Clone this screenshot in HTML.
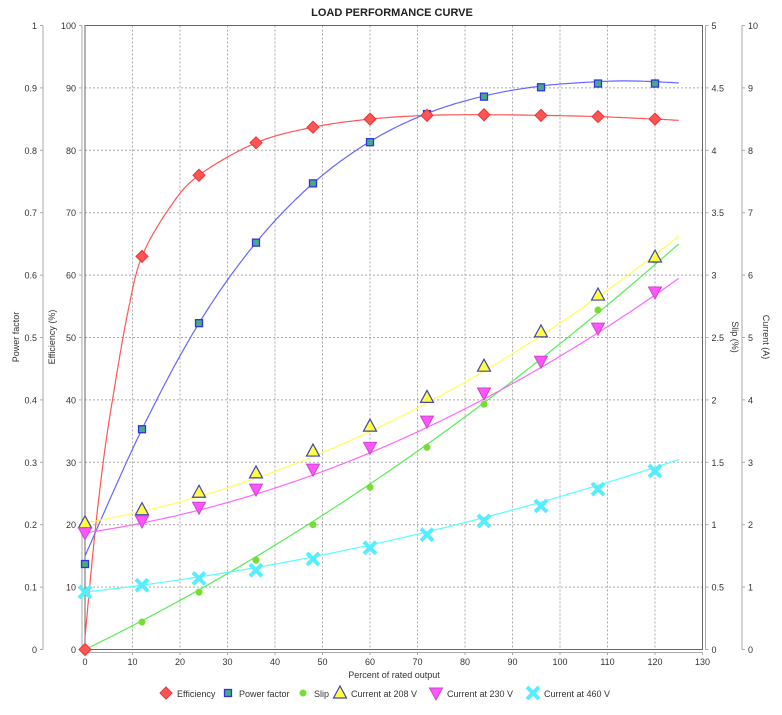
<!DOCTYPE html>
<html><head><meta charset="utf-8"><style>
body{margin:0;background:#fff;}
svg{display:block;font-family:"Liberation Sans","DejaVu Sans",sans-serif;}
</style></head><body>
<svg id="s" width="782" height="715" xmlns="http://www.w3.org/2000/svg"></svg>
<script>
const S=document.getElementById('s');
const L=85,R=702.5,T=25.5,B=649.5;
const X=v=>L+(R-L)*v/130, Y=v=>B-(B-T)*v/100;
let h='';
h+='<rect x="0" y="0" width="782" height="715" fill="#fff"/>';
h+=`<text x="392" y="16" text-anchor="middle" font-size="11" font-weight="bold" fill="#222">LOAD PERFORMANCE CURVE</text>`;
for(let i=1;i<13;i++){h+=`<line x1="${X(i*10)}" y1="${T}" x2="${X(i*10)}" y2="${B}" stroke="#aaa" stroke-dasharray="2,2" stroke-width="1"/>`;}
for(let i=1;i<10;i++){h+=`<line x1="${L}" y1="${Y(i*10)}" x2="${R}" y2="${Y(i*10)}" stroke="#aaa" stroke-dasharray="2,2" stroke-width="1"/>`;}
h+=`<rect x="${L}" y="${T}" width="${R-L}" height="${B-T}" fill="none" stroke="#666" stroke-width="1"/>`;
const ax=(x,dir,lab)=>{h+=`<line x1="${x}" y1="${T}" x2="${x}" y2="${B}" stroke="#aaa"/>`;
 for(let i=0;i<=10;i++){const y=Y(i*10);h+=`<line x1="${x}" y1="${y}" x2="${x+dir*3}" y2="${y}" stroke="#aaa"/>`;
 h+=`<text x="${x+dir*6}" y="${y+3.5}" font-size="9" fill="#333" text-anchor="${dir<0?'end':'start'}">${lab(i)}</text>`;}};
ax(43,-1,i=>i==0?'0':i==10?'1':'0.'+i);
ax(82,-1,i=>i*10);
ax(705.5,1,i=>i%2==0?i/2:(i/2).toFixed(1));
ax(742,1,i=>i);
h+=`<line x1="${L}" y1="652.5" x2="${R}" y2="652.5" stroke="#aaa"/>`;
for(let i=0;i<=13;i++){h+=`<line x1="${X(i*10)}" y1="652.5" x2="${X(i*10)}" y2="655" stroke="#aaa"/><text x="${X(i*10)}" y="665" font-size="9" fill="#333" text-anchor="middle">${i*10}</text>`;}
h+=`<text x="394" y="678" font-size="9" fill="#333" text-anchor="middle">Percent of rated output</text>`;
const rl=(x,y,t,a)=>h+=`<text transform="translate(${x},${y}) rotate(${a})" font-size="9" fill="#333" text-anchor="middle">${t}</text>`;
rl(19,337,'Power factor',-90);rl(55,337,'Efficiency (%)',-90);rl(732,337,'Slip (%)',90);rl(763,337,'Current (A)',90);
const xs=[0,12,24,36,48,60,72,84,96,108,120];
const D={
eff:[0,63,76,81.2,83.7,85,85.6,85.7,85.6,85.4,85],
pf:[13.7,35.3,52.3,65.2,74.7,81.3,85.8,88.6,90.1,90.7,90.7],
slip:[0,4.4,9.2,14.3,20,26,32.4,39.3,46.4,54.4,62.4],
c208:[20.3,22.4,25.2,28.3,31.8,35.8,40.4,45.4,50.9,56.8,62.9],
c230:[18.7,20.6,22.8,25.7,28.9,32.4,36.6,41.1,46.2,51.5,57.3],
c460:[9.2,10.3,11.4,12.7,14.5,16.3,18.4,20.6,23,25.7,28.6]};
const path=(pts,c)=>{let d='M'+pts.map(p=>X(p[0]).toFixed(1)+','+Y(p[1]).toFixed(1)).join('L');h+=`<path d="${d}" fill="none" stroke="${c}" stroke-width="1.2"/>`;};
const fn=(f,c)=>{const p=[];for(let x=0;x<=125;x+=0.5)p.push([x,f(x)]);path(p,c);};
// Catmull-Rom through control points
const cr=(P,c)=>{const out=[];for(let i=0;i<P.length-1;i++){const p0=P[Math.max(0,i-1)],p1=P[i],p2=P[i+1],p3=P[Math.min(P.length-1,i+2)];
 for(let t=0;t<1;t+=0.05){const t2=t*t,t3=t2*t;const f=(a,b,c2,d)=>0.5*(2*b+(-a+c2)*t+(2*a-5*b+4*c2-d)*t2+(-a+3*b-3*c2+d)*t3);
 out.push([f(p0[0],p1[0],p2[0],p3[0]),f(p0[1],p1[1],p2[1],p3[1])]);}}out.push(P[P.length-1]);path(out,c);};
cr([[0,2],[2,18],[4,31],[6,41],[9,54],[12,63],[18,71],[24,76],[36,81.2],[48,83.7],[60,85],[72,85.6],[84,85.7],[96,85.6],[108,85.4],[120,85],[125,84.8]],'#f55');
cr([[0,15],[12,35.3],[24,52.3],[36,65.2],[48,74.7],[60,81.4],[72,85.9],[84,88.7],[96,90.3],[108,91],[116,91.1],[125,90.8]],'#66f');
fn(x=>0.37*x+0.0012*x*x,'#5e5');
fn(x=>20.3+0.13*x+0.0019*x*x,'#ff5');
fn(x=>18.7+0.11*x+0.00173*x*x,'#f6f');
fn(x=>9.2+0.085*x+0.00068*x*x,'#5ff');
const mk={
eff:(x,y)=>`<path d="M${x},${y-6}L${x+6},${y}L${x},${y+6}L${x-6},${y}Z" fill="#f55" stroke="#e33"/>`,
pf:(x,y)=>`<rect x="${x-3.5}" y="${y-3.5}" width="7" height="7" fill="#4a8" stroke="#33d" stroke-width="1.3"/>`,
slip:(x,y)=>`<circle cx="${x}" cy="${y}" r="3.5" fill="#7d3"/>`,
c208:(x,y)=>`<path d="M${x},${y-7}L${x+6.5},${y+5}L${x-6.5},${y+5}Z" fill="#ff4" stroke="#44a" stroke-width="1.2"/>`,
c230:(x,y)=>`<path d="M${x-6.5},${y-5}L${x+6.5},${y-5}L${x},${y+7}Z" fill="#f5f" stroke="#c4c"/>`,
c460:(x,y)=>`<path d="M${x-6},${y-6}L${x+6},${y+6}M${x+6},${y-6}L${x-6},${y+6}" stroke="#5ef" stroke-width="4"/>`};
for(const k of ['pf','slip','c208','c230','c460','eff']){D[k].forEach((v,i)=>h+=mk[k](X(xs[i]),Y(v)));}
const lg=[['eff',166,'Efficiency'],['pf',228,'Power factor'],['slip',303,'Slip'],['c208',340,'Current at 208 V'],['c230',436,'Current at 230 V'],['c460',533,'Current at 460 V']];
for(const [k,x,t] of lg){h+=mk[k](x,693);h+=`<text x="${x+11}" y="697" font-size="9" fill="#333">${t}</text>`;}
S.innerHTML=h;
</script>
</body></html>
